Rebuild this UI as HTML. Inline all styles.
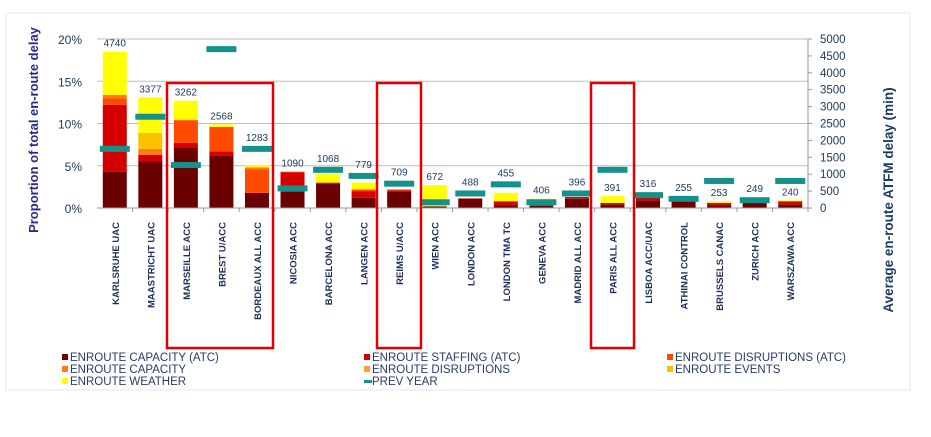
<!DOCTYPE html>
<html><head><meta charset="utf-8"><style>
html,body{margin:0;padding:0;background:#fff;}
svg{display:block;font-family:"Liberation Sans",Arial,sans-serif;}
</style></head><body>
<svg id="chart" width="931" height="437" viewBox="0 0 931 437" xmlns="http://www.w3.org/2000/svg">
<line x1="6" y1="13" x2="910" y2="13" stroke="#e6e6e6"/>
<line x1="6" y1="13" x2="6" y2="390" stroke="#e6e6e6"/>
<line x1="910" y1="13" x2="910" y2="390" stroke="#e6e6e6"/>
<line x1="6" y1="390" x2="910" y2="390" stroke="#e6e6e6"/>
<g id="grid"></g><g id="bars"></g><g id="prev"></g><g id="vals"></g><g id="axes"></g><g id="xlabels"></g>
<g fill="none" stroke="#e00000" stroke-width="2.5">
<rect x="167" y="83" width="106" height="265"/>
<rect x="377" y="83" width="44" height="265"/>
<rect x="591" y="83" width="43" height="265"/>
</g>
<text transform="translate(38,130) rotate(-90)" text-anchor="middle" font-size="13" font-weight="bold" fill="#2a2a8c">Proportion of total en-route delay</text>
<text transform="translate(893,200) rotate(-90)" text-anchor="middle" font-size="13.5" font-weight="bold" fill="#1f3a60">Average en-route ATFM delay (min)</text>
<g id="legend"></g>
</svg>
<script>
const categories=["KARLSRUHE UAC","MAASTRICHT UAC","MARSEILLE ACC","BREST U/ACC","BORDEAUX ALL ACC","NICOSIA ACC","BARCELONA ACC","LANGEN ACC","REIMS U/ACC","WIEN ACC","LONDON ACC","LONDON TMA TC","GENEVA ACC","MADRID ALL ACC","PARIS ALL ACC","LISBOA ACC/UAC","ATHINAI CONTROL","BRUSSELS CANAC","ZURICH ACC","WARSZAWA ACC"];
const capacityATC=[4.3,5.5,7.1,6.2,1.8,1.9,2.9,1.2,1.9,0.2,1.1,0.3,0.3,1.1,0.4,0.9,0.9,0.3,0.7,0.4];
const staffingATC=[7.9,0.8,0.6,0.5,0,2.3,0,0.8,0.2,0,0.05,0.5,0,0.2,0.2,0.3,0,0.3,0,0.4];
const disruptionsATC=[0.8,0,2.7,2.9,2.8,0.1,0.1,0.2,0.1,0,0,0,0,0,0,0.1,0,0,0,0];
const capacity=[0.4,0.7,0,0,0.2,0,0,0,0,0,0,0,0,0,0,0,0,0,0,0];
const disruptions=[0,0,0,0,0,0,0,0,0,0,0,0,0,0,0,0,0,0,0,0];
const events=[0,1.9,0,0,0,0,0.1,0,0,0,0,0,0,0,0,0,0,0,0,0];
const weather=[5.1,4.2,2.3,0.3,0.3,0,0.9,0.8,0,2.5,0,1.0,0.8,0,0.8,0,0,0.2,0,0.1];
const prevYear=[1750,2700,1270,4700,1750,580,1130,950,720,170,430,700,170,430,1130,380,270,800,230,800];
const avgDelay=[4740,3377,3262,2568,1283,1090,1068,779,709,672,488,455,406,396,391,316,255,253,249,240];
const leftTicks=["0%","5%","10%","15%","20%"];
const rightTicks=[0,500,1000,1500,2000,2500,3000,3500,4000,4500,5000];
const seriesNames=["ENROUTE CAPACITY (ATC)","ENROUTE STAFFING (ATC)","ENROUTE DISRUPTIONS (ATC)","ENROUTE CAPACITY","ENROUTE DISRUPTIONS","ENROUTE EVENTS","ENROUTE WEATHER"];

const NS="http://www.w3.org/2000/svg";
const x0=97,x1=808,y0=208,yTop=39;
const bw=(x1-x0)/categories.length;
const yP=p=>y0-(y0-yTop)*p/20;
const yR=v=>y0-(y0-yTop)*v/5000;
const xC=i=>x0+bw*(i+0.5);
function mk(tag,attrs,parent){const e=document.createElementNS(NS,tag);for(const k in attrs)e.setAttribute(k,attrs[k]);parent.appendChild(e);return e;}
const colors=["#6b0000","#d40000","#ff4a00","#ff7a10","#ffa030","#ffc000","#ffff00"];
const series=[capacityATC,staffingATC,disruptionsATC,capacity,disruptions,events,weather];
const g=id=>document.getElementById(id);

for(let k=1;k<=4;k++){
  const l=mk('line',{x1:x0,x2:x1,y1:yP(k*5),y2:yP(k*5),stroke:'#bdbdbd','stroke-width':1},g('grid'));
  
  
}
categories.forEach((c,i)=>{
  let cum=0;
  series.forEach((s,j)=>{
    const v=s[i]; if(v<=0) return;
    const r=mk('rect',{x:xC(i)-12,width:24,y:yP(cum+v),height:yP(cum)-yP(cum+v),fill:colors[j]},g('bars'));
    
    
    cum+=v;
  });
  const p=mk('rect',{x:xC(i)-15,width:30,y:yR(prevYear[i])-3,height:6,fill:'#14918a'},g('prev'));
  
  
  const barTop=yP(cum), prevTop=yR(prevYear[i])-3;
  let ly=barTop;
  if(prevTop<barTop && barTop-prevTop<22) ly=prevTop;
  const t=mk('text',{x:xC(i),y:ly-5,'text-anchor':'middle','font-size':10,fill:'#1f3a60'},g('vals'));
  t.textContent=avgDelay[i];
  
  
  const xl=mk('text',{transform:`translate(${xC(i)+4},222) rotate(-90)`,'text-anchor':'end','font-size':9.5,fill:'#1f2d5a','font-weight':'bold'},g('xlabels'));
  xl.textContent=c;
  
  
  const tk=mk('line',{x1:x0+bw*(i+1),x2:x0+bw*(i+1),y1:y0,y2:y0+4,stroke:'#999'},g('axes'));
  
  
});
const ax=mk('line',{x1:x0,x2:x1,y1:y0,y2:y0,stroke:'#999'},g('axes'));


const ra=mk('line',{x1:x1,x2:x1,y1:yTop,y2:y0,stroke:'#999'},g('axes'));


leftTicks.forEach((t,k)=>{
  const e=mk('text',{x:82,y:yP(k*5)+5,'text-anchor':'end','font-size':12,fill:'#1f3a60'},g('axes'));
  e.textContent=t;
  
  
});
rightTicks.forEach(v=>{
  const l=mk('line',{x1:x1,x2:x1+4,y1:yR(v),y2:yR(v),stroke:'#999'},g('axes'));
  
  
  const e=mk('text',{x:820,y:yR(v)+4,'font-size':11.5,fill:'#1f3a60'},g('axes'));
  e.textContent=v;
  
  
});
const legendItems=seriesNames.map((n,j)=>({n,c:colors[j]})).concat([{n:"PREV YEAR",c:'#14918a',line:true}]);
legendItems.forEach((it,k)=>{
  const col=k%3,row=Math.floor(k/3);
  const lx=[62,364,667][col],ly=357+row*12;
  if(it.line){const s=mk('rect',{x:lx,y:ly-1,width:8,height:3,fill:it.c},g('legend'));}
  else{const s=mk('rect',{x:lx,y:ly-3,width:6,height:6,fill:it.c},g('legend'));}
  const t=mk('text',{x:lx+8,y:ly+4,'font-size':11.5,fill:'#2a3a6a'},g('legend'));
  t.textContent=it.n;
  
  
});
</script>
</body></html>
